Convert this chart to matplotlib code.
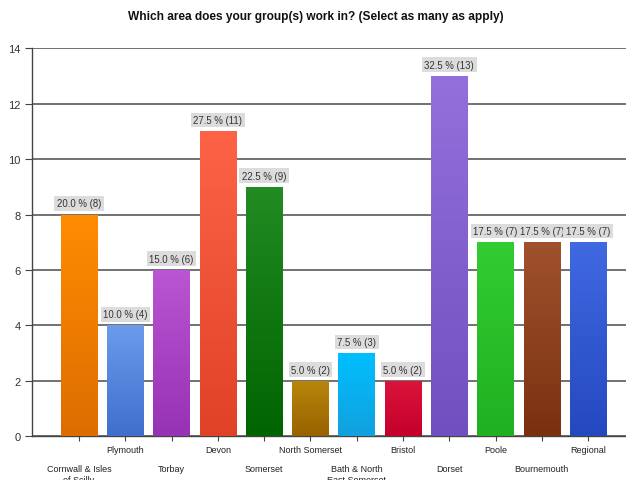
import numpy as np
import matplotlib
matplotlib.use("Agg")
import matplotlib.pyplot as plt
from matplotlib.colors import LinearSegmentedColormap

plt.rcParams['font.family'] = ['Liberation Sans', 'DejaVu Sans']

# survey answers
areas = ["Cornwall & Isles\nof Scilly", "Plymouth", "Torbay", "Devon", "Somerset",
         "North Somerset", "Bath & North\nEast Somerset", "Bristol", "Dorset",
         "Poole", "Bournemouth", "Regional"]
counts = [8, 4, 6, 11, 9, 2, 3, 2, 13, 7, 7, 7]
percents = [20.0, 10.0, 15.0, 27.5, 22.5, 5.0, 7.5, 5.0, 32.5, 17.5, 17.5, 17.5]

# top / bottom colour of each bar's gradient
top_colors = ["#ff8c00", "#6a9bec", "#ba55d3", "#ff6347", "#228b22", "#b8860b",
              "#00bfff", "#dc143c", "#9370db", "#32cd32", "#a0522d", "#4169e1"]
bottom_colors = ["#dd6d00", "#3f6fcc", "#9632b4", "#df4227", "#006400", "#996200",
                 "#12a0de", "#c4002a", "#7050c0", "#20b020", "#7a3010", "#2448c0"]

fig = plt.figure(figsize=(6.26, 4.81), dpi=100)
ax = fig.add_axes([0.0516, 0.0906, 0.9484, 0.8074])

x = np.arange(len(areas))
bars = ax.bar(x, counts, width=0.79, color="none", edgecolor="none", zorder=3)

# fill each bar with a vertical gradient
grad = np.linspace(0, 1, 256).reshape(-1, 1)
for bar, c_top, c_bot in zip(bars, top_colors, bottom_colors):
    cmap = LinearSegmentedColormap.from_list("g", [c_bot, c_top])
    x0, y0 = bar.get_x(), bar.get_y()
    w, h = bar.get_width(), bar.get_height()
    im = ax.imshow(grad, cmap=cmap, aspect="auto", origin="lower",
                   extent=[x0, x0 + w, y0, y0 + h], zorder=3)
    im.set_clip_path(bar)

# value labels
for xi, c, p in zip(x, counts, percents):
    ax.annotate(f"{p:.1f} % ({c})", xy=(xi, c), xytext=(0, 4.5),
                textcoords="offset points", ha="center", va="bottom",
                fontsize=6.9, color="#333333", zorder=5,
                bbox=dict(boxstyle="square,pad=0.25", fc="#dcdcdc", ec="none"))

ax.set_xlim(-1.01, 11.82)
ax.set_ylim(0, 14)
ax.set_yticks(range(0, 15, 2))
ax.yaxis.grid(True, color="#4a4a4a", linewidth=1.1, zorder=1)
ax.set_axisbelow(True)

ax.set_xticks(x)
ax.set_xticklabels(areas, fontsize=6.5, color="#222222")
for i, tick in enumerate(ax.xaxis.get_major_ticks()):
    tick.set_pad(16.5 if i % 2 == 0 else 2.5)
ax.tick_params(axis="x", length=3.6, color="#444444")
ax.tick_params(axis="y", length=5, color="#444444", labelsize=8, labelcolor="#333333")

for side in ["top", "right"]:
    ax.spines[side].set_visible(False)
for side in ["left", "bottom"]:
    ax.spines[side].set_color("#444444")
    ax.spines[side].set_linewidth(1.0)

fig.text(0.505, 0.964, "Which area does your group(s) work in? (Select as many as apply)",
         ha="center", va="center", fontsize=8.6, fontweight="bold", color="#111111")

fig.savefig("out.png", dpi=100)
